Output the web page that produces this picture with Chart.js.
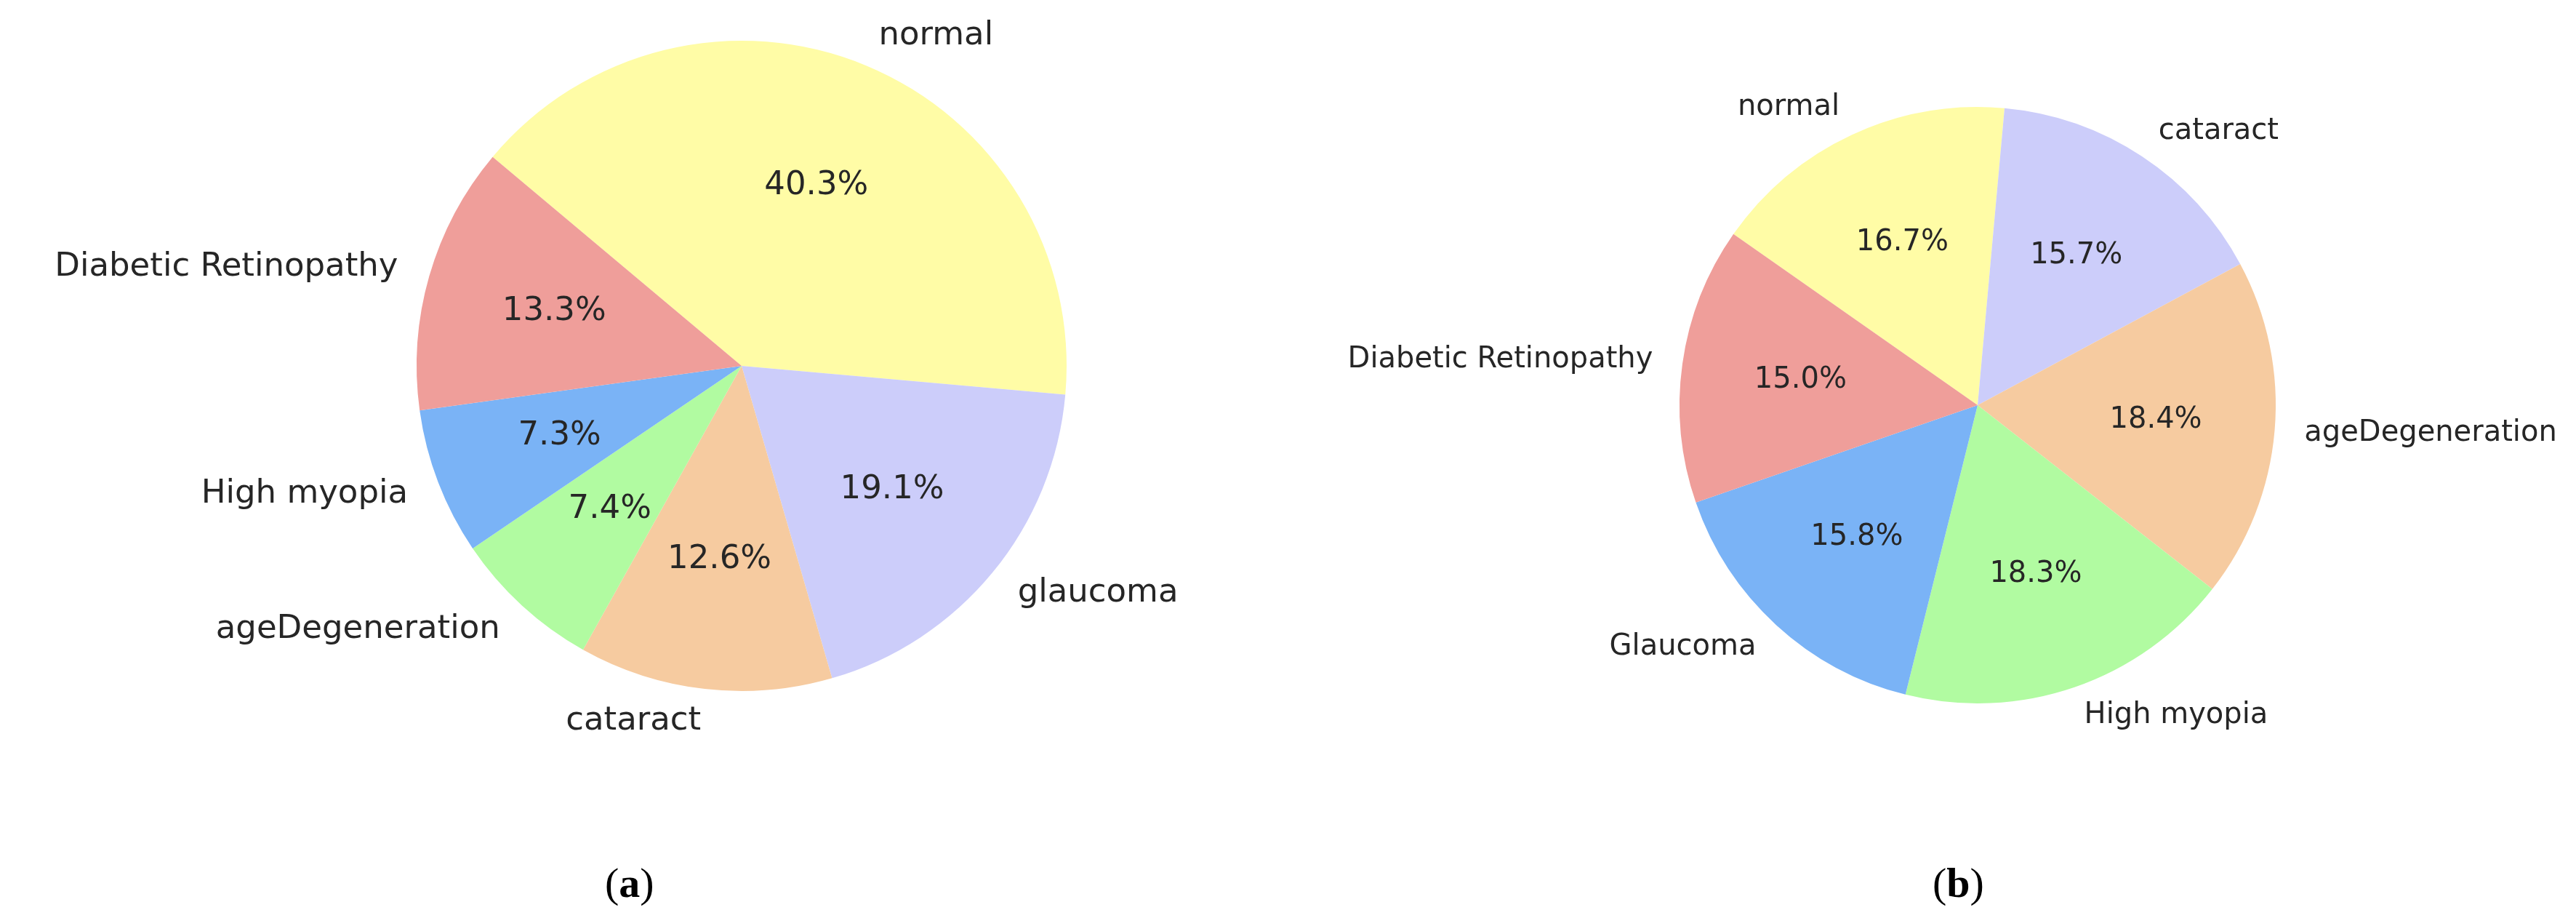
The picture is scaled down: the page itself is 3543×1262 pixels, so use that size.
<!DOCTYPE html>
<html><head><meta charset="utf-8">
<script src="https://cdn.jsdelivr.net/npm/chart.js@4"></script>
<style>
body{margin:0;width:3543px;height:1262px;background:#fff;position:relative;overflow:hidden}
canvas{position:absolute;top:0}
.cap{position:absolute;top:1180px;font-family:"Liberation Serif","DejaVu Serif",serif;font-size:58px;color:#000}
</style></head><body>
<canvas id="a" width="2040" height="1262" style="left:0"></canvas>
<canvas id="b" width="1772" height="1262" style="left:1771px"></canvas>
<div class="cap" style="left:832px">(<b>a</b>)</div>
<div class="cap" style="left:2658px">(<b>b</b>)</div>
<script>
const labelsA=["normal","glaucoma","cataract","ageDegeneration","High myopia","Diabetic Retinopathy"];
const valuesA=[40.3,19.1,12.6,7.4,7.3,13.3];
const colorsA=["#fffca6","#cccdfa","#f6cba0","#b1fba1","#7ab3f6","#ef9e9a"];
const labelsB=["normal","cataract","ageDegeneration","High myopia","Glaucoma","Diabetic Retinopathy"];
const valuesB=[16.7,15.7,18.4,18.3,15.8,15.0];
const colorsB=["#fffca6","#cccdfa","#f6cba0","#b1fba1","#7ab3f6","#ef9e9a"];

const labelPlugin={id:'lbl',afterDatasetsDraw(chart){
  const ctx=chart.ctx;const meta=chart.getDatasetMeta(0);
  const fs=chart.options.plugins.lbl.fs;
  const vals=chart.data.datasets[0].data;
  meta.data.forEach((arc,i)=>{
    const a=(arc.startAngle+arc.endAngle)/2;const r=arc.outerRadius;
    const cx=arc.x,cy=arc.y;
    ctx.save();ctx.fillStyle="#262626";ctx.font=fs+'px "DejaVu Sans"';
    ctx.textAlign="center";ctx.textBaseline="middle";
    ctx.fillText(vals[i].toFixed(1)+"%",cx+Math.cos(a)*r*0.6,cy+Math.sin(a)*r*0.6);
    const lx=cx+Math.cos(a)*r*1.1,ly=cy+Math.sin(a)*r*1.1;
    ctx.textAlign=Math.cos(a)>=0?"left":"right";
    ctx.fillText(chart.data.labels[i],lx,ly);
    ctx.restore();
  });
}};
function make(id,labels,values,colors,rot,pad,fs){
  new Chart(document.getElementById(id),{type:'pie',
    data:{labels:labels,datasets:[{data:values,backgroundColor:colors,borderWidth:0}]},
    options:{responsive:false,devicePixelRatio:1,animation:false,rotation:rot,
      layout:{padding:pad},
      plugins:{legend:{display:false},tooltip:{enabled:false},lbl:{fs:fs}}},
    plugins:[labelPlugin]});
}
make('a',labelsA,valuesA,colorsA,-50,{left:573,right:573,top:56,bottom:312},45);
make('b',labelsB,valuesB,colorsB,-55,{left:539,right:413,top:147,bottom:295},40);
</script></body></html>
